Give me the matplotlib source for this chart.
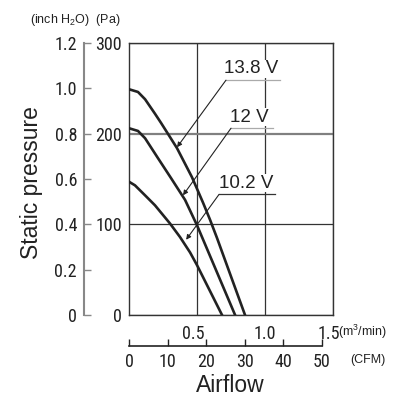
import matplotlib
matplotlib.use("Agg")
import matplotlib.pyplot as plt
from matplotlib.transforms import ScaledTranslation

plt.rcParams['mathtext.default'] = 'regular'

# ---- data (airflow in m3/min, static pressure in Pa) ----
v138_x = [0.0, 0.066, 0.118, 0.191, 0.235, 0.29, 0.353, 0.463, 0.544, 0.596, 0.647, 0.853]
v138_y = [249, 246, 238, 222, 212, 199, 184, 152, 124, 105, 85, 0]
v12_x = [0.0, 0.066, 0.118, 0.213, 0.309, 0.412, 0.5, 0.78]
v12_y = [206, 203, 195, 173, 151, 127, 99, 0]
v102_x = [0.0, 0.044, 0.118, 0.191, 0.301, 0.375, 0.449, 0.5, 0.684]
v102_y = [147, 143, 132, 121, 101, 86, 69, 55, 0]

labels = ["13.8 V", "12 V", "10.2 V"]
# annotation: text x, underline y, underline x-start, x-end, arrow tip x, tip y
ann_text_x = [0.897, 0.885, 0.862]
ann_line_y = [259, 206, 133]
ann_line_x0 = [0.713, 0.75, 0.662]
ann_line_x1 = [1.11, 1.06, 1.07]
ann_tip_x = [0.353, 0.397, 0.42]
ann_tip_y = [185, 132, 83]
ann_line_col = ['#aaaaaa', '#aaaaaa', '#333333']

pa_ticks = [0, 100, 200, 300]
inch_ticks = [0, 0.2, 0.4, 0.6, 0.8, 1.0, 1.2]
inch_labels = ['0', '0.2', '0.4', '0.6', '0.8', '1.0', '1.2']
m3_ticks = [0.5, 1.0, 1.5]
m3_labels = ['0.5', '1.0', '1.5']
cfm_ticks = [0, 10, 20, 30, 40, 50]

W, H = 406, 411
fig = plt.figure(figsize=(W / 100, H / 100), dpi=100)
L, R, T, B = 129, 333, 43, 315
ax = fig.add_axes([L / W, 1 - B / H, (R - L) / W, (B - T) / H])

numfont = dict(family=['Roboto Condensed', 'DejaVu Sans'], size=13)
sans = ['Liberation Sans', 'DejaVu Sans']
dark = '#222222'

ax.set_xlim(0, 1.5)
ax.set_ylim(0, 300)
for s in ax.spines.values():
    s.set_color('#333333')
    s.set_linewidth(1.0)

ax.set_yticks(pa_ticks)
ax.set_yticklabels([str(t) for t in pa_ticks], fontdict=numfont)
ax.set_xticks(m3_ticks)
ax.set_xticklabels(m3_labels, fontdict=numfont)
ax.tick_params(axis='both', length=0, colors=dark)
ax.tick_params(axis='y', pad=5)
ax.tick_params(axis='x', pad=7)
ax.grid(True, color='#333333', lw=0.9)
ax.set_axisbelow(True)
for gl, t in zip(ax.get_ygridlines(), pa_ticks):
    if t == 200:
        gl.set_color('#808080')
        gl.set_linewidth(1.6)
# small leftward nudge of outer m3/min labels as in the reference
for lab, t in zip(ax.get_xticklabels(), m3_ticks):
    if t != 1.0:
        lab.set_transform(lab.get_transform() + ScaledTranslation(-0.04, 0, fig.dpi_scale_trans))

for xs, ys in [(v138_x, v138_y), (v12_x, v12_y), (v102_x, v102_y)]:
    ax.plot(xs, ys, color=dark, lw=1.9, solid_joinstyle='round', zorder=3)

for i, lab in enumerate(labels):
    ax.text(ann_text_x[i], ann_line_y[i] + 3, lab, ha='center', va='bottom',
            fontsize=13.5, family=sans, color=dark, zorder=5,
            bbox=dict(facecolor='white', edgecolor='none', pad=0.5))
    ax.plot([ann_line_x0[i], ann_line_x1[i]], [ann_line_y[i], ann_line_y[i]],
            color=ann_line_col[i], lw=0.9, zorder=4)
    ax.annotate('', xy=(ann_tip_x[i], ann_tip_y[i]),
                xytext=(ann_line_x0[i], ann_line_y[i]),
                arrowprops=dict(arrowstyle='-|>', lw=0.8, color=dark,
                                mutation_scale=7, shrinkA=0, shrinkB=0), zorder=4)

# left inch H2O axis
sec_y = ax.secondary_yaxis((84 - L) / (R - L), functions=(lambda p: p / 250.0, lambda i: i * 250.0))
sec_y.set_yticks(inch_ticks)
sec_y.set_yticklabels(inch_labels, fontdict=numfont)
sec_y.tick_params(axis='y', direction='in', length=5, width=1, color='#888888',
                  labelcolor=dark, pad=5)
sec_y.spines['left'].set_color('#888888')
sec_y.spines['left'].set_linewidth(1.5)

# bottom CFM axis
sec_x = ax.secondary_xaxis(-(346 - B) / (B - T), functions=(lambda m: m * 35.31, lambda c: c / 35.31))
sec_x.set_xticks(cfm_ticks)
sec_x.set_xticklabels([str(t) for t in cfm_ticks], fontdict=numfont)
sec_x.tick_params(axis='x', direction='in', length=5, width=1, color=dark,
                  labelcolor=dark, pad=5)
sec_x.spines['bottom'].set_bounds(0, 50)
sec_x.spines['bottom'].set_color(dark)
sec_x.spines['bottom'].set_linewidth(1.2)

small = dict(fontsize=9, color=dark, family=sans)
fig.text(30 / W, 1 - 20 / H, '(inch H$_2$O)  (Pa)', ha='left', va='center', **small)
fig.text(338 / W, 1 - 332 / H, '(m$^3$/min)', ha='left', va='center', **small)
fig.text(350 / W, 1 - 360 / H, '(CFM)', ha='left', va='center', **small)

fig.text(230 / W, 1 - 385 / H, 'Airflow', ha='center', va='center', fontsize=16.5,
         color=dark, family=sans)
fig.text(32 / W, 1 - 183 / H, 'Static pressure', ha='center', va='center', fontsize=16.5,
         rotation=90, color=dark, family=sans)

fig.savefig('out.png', dpi=100)
